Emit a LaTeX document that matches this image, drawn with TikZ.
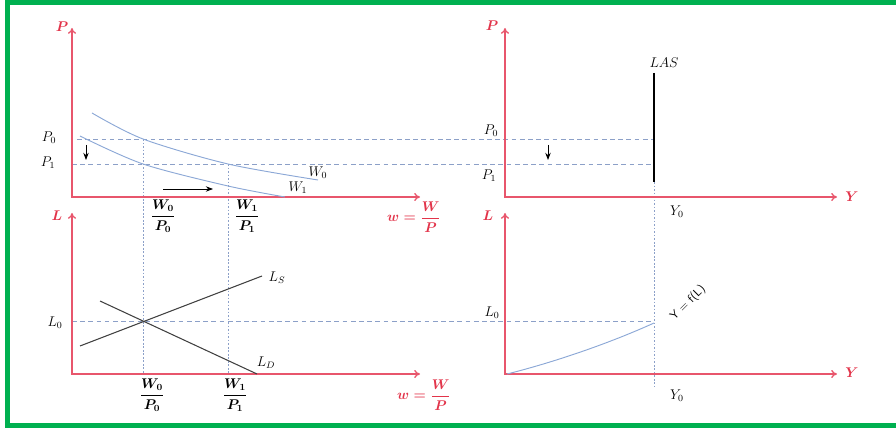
\documentclass[tikz,border=0pt]{standalone}
\usepackage{amsmath}
\usetikzlibrary{arrows.meta}

\definecolor{axisred}{RGB}{232,86,108}
\definecolor{labred}{RGB}{226,52,74}
\definecolor{curveblue}{RGB}{140,168,214}
\definecolor{guideblue}{RGB}{140,160,200}
\definecolor{framegreen}{RGB}{0,176,80}

\tikzset{
  axis/.style={axisred, line width=1.1pt, <->, >={To[length=5pt,width=7pt]}},
  axislabel/.style={text=labred, font=\large\boldmath},
  mark label/.style={font=\large},
  fraclabel/.style={font=\large\boldmath},
  guide/.style={guideblue, dash pattern=on 4pt off 3pt, line width=0.6pt},
  vguide/.style={guideblue, dash pattern=on 1.5pt off 1.5pt, line width=0.6pt},
  wagecurve/.style={curveblue, line width=0.8pt},
  labourline/.style={black!75, line width=0.9pt},
  shiftarrow/.style={->, line width=0.7pt}
}

\begin{document}
\begin{tikzpicture}[x=0.03cm, y=-0.03cm, >=Stealth]

    \useasboundingbox (0,0) rectangle (896,428);

    \def\xa{72}   % left vertical axes
    \def\xb{505}  % right vertical axes
    \def\ya{197}  % upper horizontal axes
    \def\yb{374}  % lower horizontal axes
    \def\pz{139}  \def\po{164}  \def\lz{321}
    \def\wz{143}  \def\wo{228}  \def\yz{654}

    % ── Frame (right side falls outside the picture) ─────────────────────────
    \draw[framegreen, line width=4.3pt] (900,2.5) -- (7.5,2.5) -- (7.5,425.5) -- (900,425.5);

    % ── Guide lines FIRST (behind everything) ────────────────────────────────
    \draw[guide] (77,\pz) -- (\yz,\pz);
    \draw[guide] (\xa,\po) -- (\yz,\po);
    \draw[guide] (\xa,\lz) -- (\yz,\lz);
    \draw[vguide] (\wz,\pz) -- (\wz,\yb);
    \draw[vguide] (\wo,\po) -- (\wo,\yb);
    \draw[vguide] (\yz,182) -- (\yz,387);

    % ── Axes ─────────────────────────────────────────────────────────────────
    \foreach \ox/\oy/\ytop/\xend in {\xa/\ya/28/420, \xa/\yb/213/420,
                                     \xb/\ya/28/837, \xb/\yb/213/837}
        \draw[axis] (\ox,\ytop) -- (\ox,\oy) -- (\xend,\oy);

    \node[axislabel] (Ptl) at (62,27) {$P$};
    \node[axislabel] (Ptr) at (492,26) {$P$};
    \node[axislabel] (Lbl) at (57,216) {$L$};
    \node[axislabel] (Lbr) at (488,216) {$L$};
    \node[axislabel] (wtl) at (414,217) {$w=\dfrac{W}{P}$};
    \node[axislabel] (wbl) at (424,395) {$w=\dfrac{W}{P}$};
    \node[axislabel] (Ytr) at (852,197) {$Y$};
    \node[axislabel] (Ybr) at (852,373) {$Y$};

    % ── Wage curves W0, W1 ───────────────────────────────────────────────────
    \draw[wagecurve] plot[smooth] coordinates {(92,113) (143,139) (228,164) (318,180)};
    \draw[wagecurve] plot[smooth] coordinates {(80,136) (143,164) (228,186) (285,197)};
    \node[mark label] (W0) at (318,173) {$W_0$};
    \node[mark label] (W1) at (298,188) {$W_1$};

    % ── Labour market ────────────────────────────────────────────────────────
    \draw[labourline] (80,346) -- (262,276);
    \draw[labourline] (100,301) -- (257,374);
    \node[mark label] (LS) at (277,278) {$L_S$};
    \node[mark label] (LD) at (266,363) {$L_D$};

    % ── LAS and production function ──────────────────────────────────────────
    \draw[black, line width=1.5pt] (\yz,73) -- (\yz,182);
    \node[mark label] (LAS) at (664,63) {$LAS$};
    \draw[wagecurve] (507,\yb) .. controls (555,362) and (610,343) .. (\yz,323);
    \node[rotate=45, font=\sffamily] (prod) at (688,303) {Y = f(L)};

    % ── Level labels ─────────────────────────────────────────────────────────
    \node[mark label] (P0l) at (49,138) {$P_0$};
    \node[mark label] (P1l) at (48,163) {$P_1$};
    \node[mark label] (L0l) at (55,323) {$L_0$};
    \node[mark label] (P0r) at (491,131) {$P_0$};
    \node[mark label] (P1r) at (489,176) {$P_1$};
    \node[mark label] (L0r) at (492,313) {$L_0$};
    \node[mark label] (Y0t) at (677,212) {$Y_0$};
    \node[mark label] (Y0b) at (677,396) {$Y_0$};

    % ── Real wage fractions ──────────────────────────────────────────────────
    \node[fraclabel] (f0t) at (163,216) {$\dfrac{W_0}{P_0}$};
    \node[fraclabel] (f1t) at (247,216) {$\dfrac{W_1}{P_1}$};
    \node[fraclabel] (f0b) at (152,395) {$\dfrac{W_0}{P_0}$};
    \node[fraclabel] (f1b) at (235,395) {$\dfrac{W_1}{P_1}$};

    % ── Shift arrows ─────────────────────────────────────────────────────────
    \draw[shiftarrow] (86,145) -- (86,160);
    \draw[shiftarrow] (548,145) -- (548,160);
    \draw[shiftarrow] (163,189) -- (213,189);

\end{tikzpicture}
\end{document}
